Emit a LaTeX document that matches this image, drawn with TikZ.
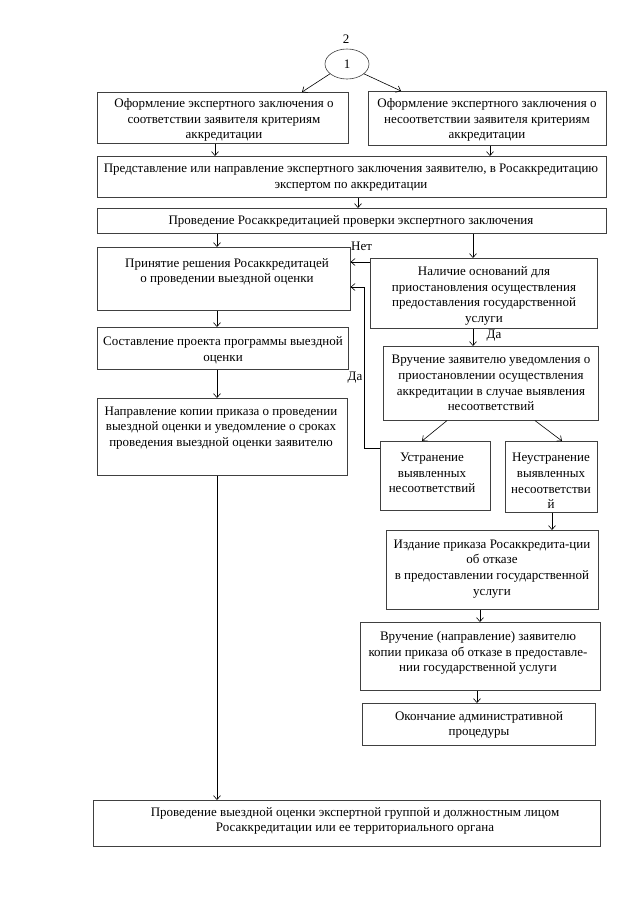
\documentclass[tikz,border=0pt]{standalone}
\usepackage{fontspec}
\setmainfont{Liberation Serif}
\usetikzlibrary{arrows.meta,shapes.geometric}
\begin{document}
\begin{tikzpicture}[x=1pt,y=-1pt,
  box/.style={draw=black!75, line width=0.6pt, rectangle, inner sep=0pt, anchor=north west},
  txt/.style={align=center, inner sep=0pt, font=\fontsize{13}{15.8}\selectfont},
  lbl/.style={inner sep=0pt, font=\fontsize{13}{15.8}\selectfont},
  arr/.style={draw=black, line width=0.6pt, -{Straight Barb[length=4pt,width=7pt]}},
  ln/.style={draw=black, line width=0.6pt}]
\fill[white] (0,0) rectangle (640,905);
\useasboundingbox (0,0) rectangle (640,905);

% top
\node[lbl] (two) at (346,39) {2};
\node[draw=black!75, line width=0.6pt, ellipse, minimum width=44pt, minimum height=30pt, inner sep=0pt, font=\fontsize{13}{15.8}\selectfont] (one) at (347,64) {1};

% boxes
\node[box, minimum width=251pt, minimum height=51pt] (A) at (97,92) {};
\node[box, minimum width=238pt, minimum height=54pt] (B) at (368,91) {};
\node[box, minimum width=509pt, minimum height=41pt] (C) at (97,156) {};
\node[box, minimum width=509pt, minimum height=25pt] (D) at (97,208) {};
\node[box, minimum width=253pt, minimum height=63pt] (E) at (97,247) {};
\node[box, minimum width=227pt, minimum height=70pt] (F) at (370,258) {};
\node[box, minimum width=251pt, minimum height=42pt] (G) at (97,327) {};
\node[box, minimum width=250pt, minimum height=77pt] (H) at (97,398) {};
\node[box, minimum width=215pt, minimum height=74pt] (I) at (383,346) {};
\node[box, minimum width=110pt, minimum height=69pt] (J) at (380,441) {};
\node[box, minimum width=92pt, minimum height=71pt] (J2) at (505,441) {};
\node[box, minimum width=212pt, minimum height=79pt] (L) at (386,530) {};
\node[box, minimum width=240pt, minimum height=68pt] (M) at (360,622) {};
\node[box, minimum width=233pt, minimum height=42pt] (N) at (362,703) {};
\node[box, minimum width=507pt, minimum height=46pt] (K) at (93,800) {};

% texts
\node[txt] (At) at (224,120) {Оформление экспертного заключения о\\соответствии заявителя критериям\\аккредитации};
\node[txt] (Bt) at (487,120) {Оформление экспертного заключения о\\несоответствии заявителя критериям\\аккредитации};
\node[txt] (Ct) at (351,178) {Представление или направление экспертного заключения заявителю, в Росаккредитацию\\экспертом по аккредитации};
\node[txt] (Dt) at (351,221.5) {Проведение Росаккредитацией проверки экспертного заключения};
\node[txt] (Et) at (227,272) {Принятие решения Росаккредитацей\\о проведении выездной оценки};
\node[txt] (Ft) at (484,296) {Наличие оснований для\\приостановления осуществления\\предоставления государственной\\услуги};
\node[txt] (Gt) at (223,350) {Составление проекта программы выездной\\оценки};
\node[txt] (Ht) at (221,428) {Направление копии приказа о проведении\\выездной оценки и уведомление о сроках\\проведения выездной оценки заявителю};
\node[txt] (It) at (491,383) {Вручение заявителю уведомления о\\приостановлении осуществления\\аккредитации в случае выявления\\несоответствий};
\node[txt] (Jt) at (432,473) {Устранение\\выявленных\\несоответствий};
\node[txt] (J2t) at (551,481) {Неустранение\\выявленных\\несоответстви\\й};
\node[txt] (Lt) at (492,569) {Издание приказа Росаккредита-ции\\об отказе\\в предоставлении государственной\\услуги};
\node[txt] (Mt) at (478,653) {Вручение (направление) заявителю\\копии приказа об отказе в предоставле-\\нии государственной услуги};
\node[txt] (Nt) at (479,725) {Окончание административной\\процедуры};
\node[txt] (Kt) at (355,821) {Проведение выездной оценки экспертной группой и должностным лицом\\Росаккредитации или ее территориального органа};

% labels
\node[lbl, anchor=west] (net) at (351,246) {Нет};
\node[lbl] (da1) at (494,336) {Да};
\node[lbl] (da2) at (355,378) {Да};

% helper coordinates
\coordinate (xA) at (302,0);
\coordinate (xB) at (401,0);
\coordinate (xAC) at (215,0);
\coordinate (xBC) at (490,0);
\coordinate (xCD) at (358,0);
\coordinate (xL) at (217,0);
\coordinate (xDF) at (473,0);
\coordinate (yFE) at (0,262);
\coordinate (yJE) at (0,287);
\coordinate (yJ) at (0,448);
\coordinate (xJE) at (364,0);
\coordinate (xIJa) at (447,0);
\coordinate (xIJb) at (422,0);
\coordinate (xIJ2a) at (535,0);
\coordinate (xIJ2b) at (562,0);
\coordinate (xJL) at (552,0);
\coordinate (xLM) at (480,0);
\coordinate (xMN) at (477,0);

% connectors
\draw[arr] (one.210) -- (A.north -| xA);
\draw[arr] (one.330) -- (B.north -| xB);
\draw[arr] (A.south -| xAC) -- (C.north -| xAC);
\draw[arr] (B.south -| xBC) -- (C.north -| xBC);
\draw[arr] (C.south -| xCD) -- (D.north -| xCD);
\draw[arr] (D.south -| xL) -- (E.north -| xL);
\draw[arr] (D.south -| xDF) -- (F.north -| xDF);
\draw[arr] (F.west |- yFE) -- (E.east |- yFE);
\draw[arr] (J.west |- yJ) -| (xJE |- yJE) -- (E.east |- yJE);
\draw[arr] (E.south -| xL) -- (G.north -| xL);
\draw[arr] (G.south -| xL) -- (H.north -| xL);
\draw[arr] (H.south -| xL) -- (K.north -| xL);
\draw[arr] (F.south -| xDF) -- (I.north -| xDF);
\draw[arr] (I.south -| xIJa) -- (J.north -| xIJb);
\draw[arr] (I.south -| xIJ2a) -- (J2.north -| xIJ2b);
\draw[arr] (J2.south -| xJL) -- (L.north -| xJL);
\draw[arr] (L.south -| xLM) -- (M.north -| xLM);
\draw[arr] (M.south -| xMN) -- (N.north -| xMN);
\end{tikzpicture}
\end{document}
